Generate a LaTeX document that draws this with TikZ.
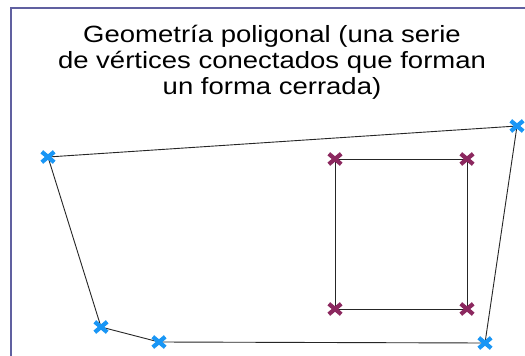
\documentclass[tikz,border=0pt]{standalone}
\usepackage{fontspec}
\setmainfont{Liberation Sans}
\definecolor{framec}{RGB}{96,96,160}
\definecolor{bluex}{RGB}{25,150,245}
\definecolor{purx}{RGB}{140,40,95}
\tikzset{
  xmark/.pic={\draw[line width=4.2pt, draw=#1] (-6.2,-5.2) -- (6.2,5.2) (-6.2,5.2) -- (6.2,-5.2);},
  edge/.style={draw=black!85, line width=0.9pt},
}
\begin{document}
\begin{tikzpicture}[x=1pt,y=-1pt]
\useasboundingbox (0,0) rectangle (525,356);
\fill[white] (0,0) rectangle (525,356);
\draw[framec, line width=2pt] (11,365) -- (11,8) -- (535,8);
\node[font=\fontsize{23.5}{26}\selectfont, align=center, anchor=north, inner sep=0pt] (title) at (272,25)
  {\scalebox{1.17}[1]{Geometría poligonal (una serie}\\\scalebox{1.17}[1]{de vértices conectados que forman}\\\scalebox{1.17}[1]{un forma cerrada)}};
% outer polygon
\coordinate (a) at (48,157);
\coordinate (b) at (517,126);
\coordinate (c) at (485,343);
\coordinate (d) at (159,342);
\coordinate (e) at (101,327);
\draw[edge] (a) -- (b) -- (c) -- (d) -- (e) -- cycle;
% inner square
\coordinate (s1) at (335,159);
\coordinate (s2) at (467,159);
\coordinate (s3) at (467,309);
\coordinate (s4) at (335,309);
\draw[edge] (s1) -- (s2) -- (s3) -- (s4) -- cycle;
\foreach \p in {a,b,c,d,e} \pic at (\p) {xmark=bluex};
\foreach \p in {s1,s2,s3,s4} \pic at (\p) {xmark=purx};
\end{tikzpicture}
\end{document}
